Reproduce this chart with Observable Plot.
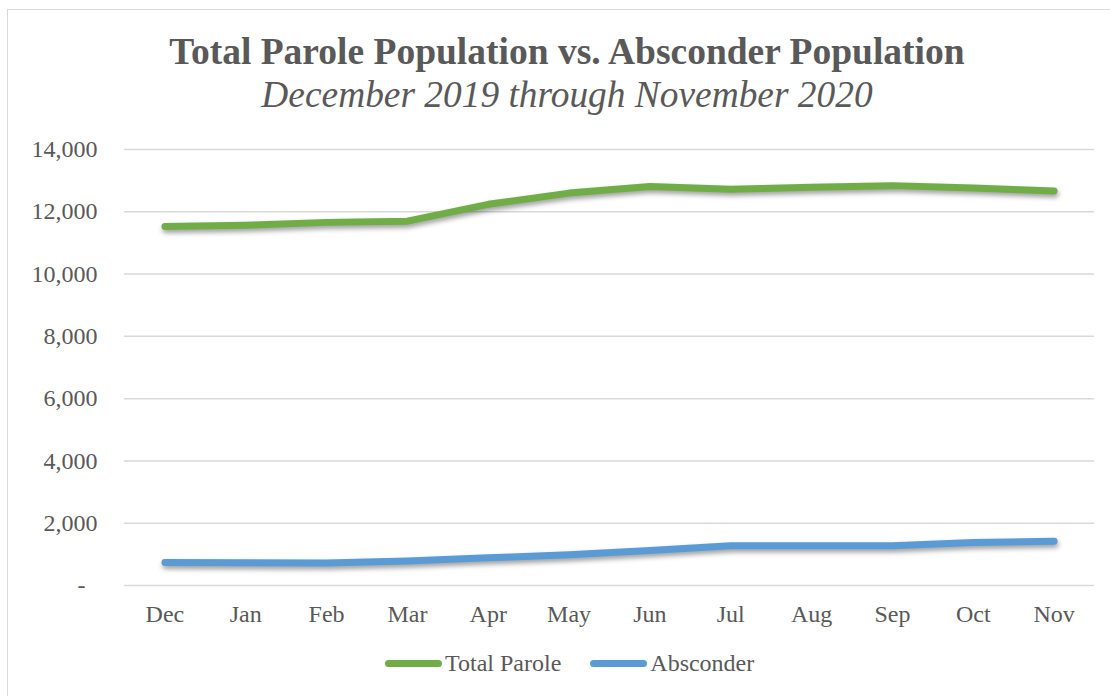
<!DOCTYPE html>
<html>
<head>
<meta charset="utf-8">
<script src="https://cdn.jsdelivr.net/npm/d3@7"></script>
<script src="https://cdn.jsdelivr.net/npm/@observablehq/plot@0.6"></script>
<style>
  html, body { margin: 0; padding: 0; background: #fff; overflow: hidden; }
  #wrap { position: relative; width: 1110px; height: 696px; overflow: hidden; font-family: "Liberation Serif", "Times New Roman", serif; color: #595959; }
  #frame { position: absolute; left: 7px; top: 9px; width: 1300px; height: 900px; border: 1.5px solid #d9d9d9; box-sizing: border-box; }
  .title { position: absolute; left: 0; width: 1134px; text-align: center; line-height: 1; white-space: nowrap; }
  #t1 { top: 33px; font-size: 37.5px; font-weight: bold; }
  #t2 { top: 76px; font-size: 37.4px; font-style: italic; }
  #chart { position: absolute; left: 0; top: 120px; width: 1110px; height: 520px; }
  #chart svg { display: block; max-width: none; }
  #chart svg g[aria-label="line"] path { filter: drop-shadow(1px 3px 2.5px rgba(0,0,0,0.38)); }
  #legend { position: absolute; left: 385px; top: 651px; display: flex; align-items: center; font-size: 24px; line-height: 1; white-space: nowrap; }
  .item { display: flex; align-items: center; margin-right: 29px; }
  .sw { display: inline-block; width: 57px; height: 7px; border-radius: 4px; margin-right: 3px; margin-top: 1px; }
</style>
</head>
<body>
<div id="wrap">
  <div id="frame"></div>
  <div class="title" id="t1"></div>
  <div class="title" id="t2"></div>
  <div id="chart"></div>
  <div id="legend"></div>
</div>
<script>
const titleText = "Total Parole Population vs. Absconder Population";
const subtitleText = "December 2019 through November 2020";
const months = ["Dec", "Jan", "Feb", "Mar", "Apr", "May", "Jun", "Jul", "Aug", "Sep", "Oct", "Nov"];
const seriesNames = ["Total Parole", "Absconder"];
const seriesColors = ["#70AD47", "#5B9BD5"];
const totalParole = [11530, 11570, 11660, 11700, 12240, 12600, 12810, 12720, 12790, 12840, 12760, 12670];
const absconder = [740, 730, 720, 790, 890, 985, 1120, 1280, 1280, 1280, 1380, 1420];
const yTicks = [0, 2000, 4000, 6000, 8000, 10000, 12000, 14000];

document.getElementById("t1").textContent = titleText;
document.getElementById("t2").textContent = subtitleText;

const data = [];
months.forEach((m, i) => data.push({month: m, value: totalParole[i], series: seriesNames[0]}));
months.forEach((m, i) => data.push({month: m, value: absconder[i], series: seriesNames[1]}));

const fmt = d => d === 0 ? "-\u2007" : d3.format(",")(d);

const chart = Plot.plot({
  width: 1110,
  height: 520,
  marginLeft: 124,
  marginRight: 16,
  marginTop: 29,
  marginBottom: 55,
  x: {type: "point", domain: months, padding: 0.5, round: false, label: null},
  y: {domain: [0, 14000], label: null},
  color: {domain: seriesNames, range: seriesColors},
  style: {fontFamily: "Liberation Serif, Times New Roman, serif", fontSize: "24px", color: "#595959", background: "transparent", overflow: "visible", maxWidth: "none"},
  marks: [
    Plot.ruleY(yTicks, {stroke: "#d9d9d9", strokeWidth: 1.5}),
    Plot.axisY({ticks: yTicks, tickSize: 0, tickPadding: 27, tickFormat: fmt, label: null, fontSize: 24, fill: "#595959"}),
    Plot.axisX({tickSize: 0, tickPadding: 19, label: null, fontSize: 24, fill: "#595959"}),
    Plot.line(data, {x: "month", y: "value", z: "series", stroke: "series", strokeWidth: 7, strokeLinecap: "round", strokeLinejoin: "round"})
  ]
});
document.getElementById("chart").appendChild(chart);

const legend = document.getElementById("legend");
seriesNames.forEach((name, i) => {
  const item = document.createElement("div");
  item.className = "item";
  const sw = document.createElement("span");
  sw.className = "sw";
  sw.style.background = seriesColors[i];
  const label = document.createElement("span");
  label.textContent = name;
  item.appendChild(sw);
  item.appendChild(label);
  legend.appendChild(item);
});
</script>
</body>
</html>
